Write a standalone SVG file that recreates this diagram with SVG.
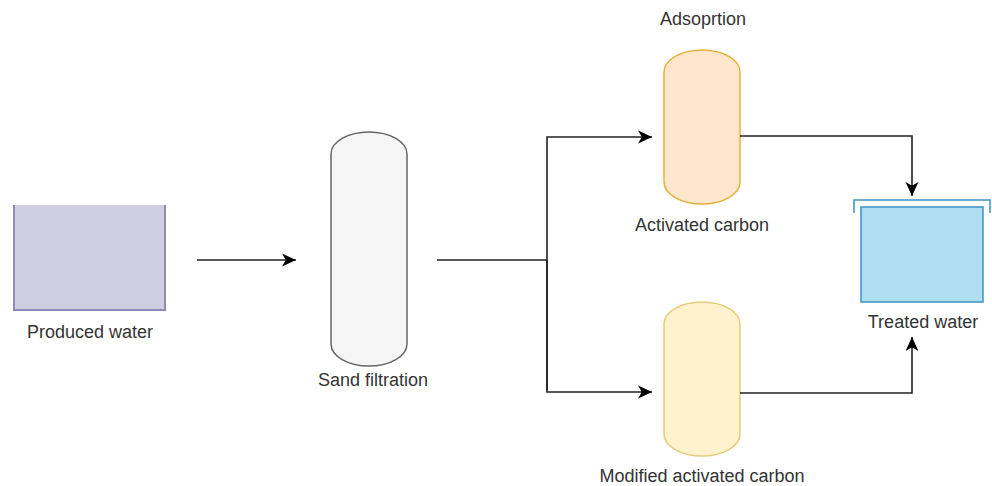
<svg xmlns="http://www.w3.org/2000/svg" width="992" height="486" viewBox="0 0 992 486">
<style>
text{font-family:"Liberation Sans",Arial,sans-serif;font-size:18px;fill:#333;text-anchor:middle}
.conn{fill:none;stroke:#222;stroke-width:1.6}
</style>
<defs>
<marker id="arr" markerUnits="userSpaceOnUse" markerWidth="15" markerHeight="15" viewBox="0 0 14 14" refX="13" refY="7" orient="auto">
<path d="M0,1 L13,7 L0,13 L3.5,7 z" fill="#000"/>
</marker>
</defs>
<rect width="992" height="486" fill="#fff"/>
<g id="produced-water">
<rect x="14" y="205" width="151" height="105" fill="#d0cee2" stroke="none"/>
<path d="M14,205 V310 H165 V205" fill="none" stroke="#8f8ab8" stroke-width="2"/>
<text x="90" y="338">Produced water</text>
</g>
<g id="sand-filtration">
<path d="M331,154 A38,22 0 0 1 407,154 V344 A38,22 0 0 1 331,344 Z" fill="#f5f5f5" stroke="#666" stroke-width="1.5"/>
<text x="373" y="386">Sand filtration</text>
</g>
<g id="activated-carbon">
<text x="703" y="25">Adsoprtion</text>
<path d="M664,72 A38,22 0 0 1 740,72 V182 A38,22 0 0 1 664,182 Z" fill="#ffe6cc" stroke="#e5b13a" stroke-width="1.5"/>
<text x="702" y="231">Activated carbon</text>
</g>
<g id="modified-activated-carbon">
<path d="M664,324 A38,22 0 0 1 740,324 V434 A38,22 0 0 1 664,434 Z" fill="#fff2cc" stroke="#e5cc7a" stroke-width="1.5"/>
<text x="702" y="482">Modified activated carbon</text>
</g>
<g id="treated-water">
<rect x="861" y="207" width="122" height="95" fill="#b1ddf0" stroke="#3a93c2" stroke-width="1.5"/>
<path d="M854,213 V200 H990 V213" fill="none" stroke="#3a93c2" stroke-width="1.5"/>
<text x="923" y="328">Treated water</text>
</g>
<g id="connectors">
<path class="conn" d="M197,260 H296" marker-end="url(#arr)"/>
<path class="conn" d="M437,260 H547"/>
<path class="conn" d="M547,390 V137 H652" marker-end="url(#arr)"/>
<path class="conn" d="M547,260 V392 H652" marker-end="url(#arr)"/>
<path class="conn" d="M740,136 H912 V196" marker-end="url(#arr)"/>
<path class="conn" d="M740,393 H912 V337" marker-end="url(#arr)"/>
</g>
</svg>
